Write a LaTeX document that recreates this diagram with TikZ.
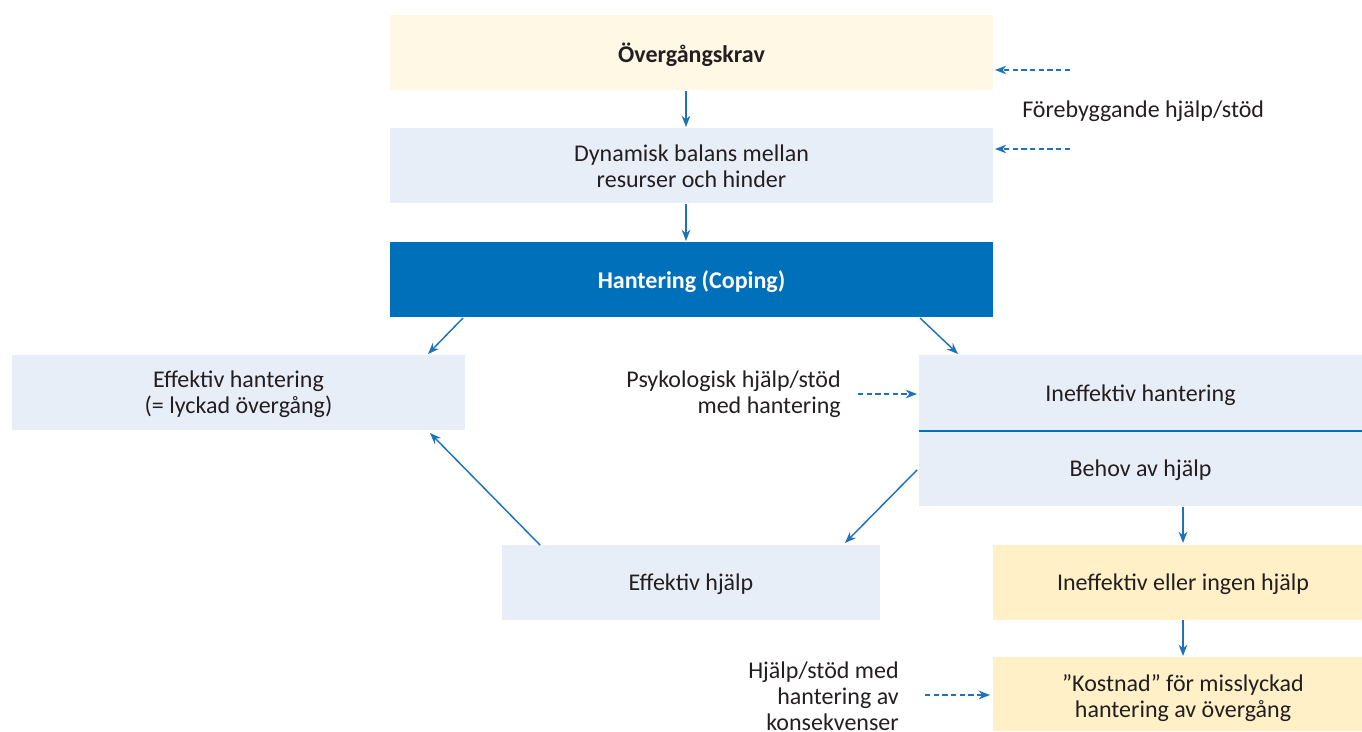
\documentclass[tikz,border=0pt]{standalone}
\usepackage{fontspec}
\setmainfont{Carlito}
\usetikzlibrary{arrows.meta}
\definecolor{lblue}{HTML}{E8EEF8}
\definecolor{lyel}{HTML}{FFF8E4}
\definecolor{myel}{HTML}{FFF0C8}
\definecolor{dblue}{HTML}{0070BA}
\definecolor{arr}{HTML}{1F72B8}
\definecolor{txt}{HTML}{231F20}
\tikzset{
  box/.style={inner sep=0pt, align=center, text=txt, font=\fontsize{18}{19.5}\selectfont},
  conn/.style={draw=arr, line width=1.1pt, -{Stealth[length=8.5pt,width=6.5pt]}},
  dconn/.style={conn, dashed, dash pattern=on 4pt off 2.5pt},
  lbl/.style={inner sep=0pt, text=txt, font=\fontsize{18}{19.5}\selectfont},
}
\begin{document}
\begin{tikzpicture}[x=0.75pt,y=-0.75pt]
\useasboundingbox (0,0) rectangle (1362,731);
% boxes
\fill[lyel] (390,15) rectangle (993,90);
\node[box, font=\fontsize{18}{19.5}\selectfont\bfseries] (krav) at (691.5,55) {Övergångskrav};
\fill[lblue] (390,128) rectangle (993,203);
\node[box] (dyn) at (691.5,166) {Dynamisk balans mellan\\resurser och hinder};
\fill[dblue] (390,242) rectangle (993,317);
\node[box, text=white, font=\fontsize{18}{19.5}\selectfont\bfseries] (cop) at (691.5,282) {Hantering (Coping)};
\fill[lblue] (12,355) rectangle (465,430);
\node[box] (eff) at (238.5,394) {Effektiv hantering\\(= lyckad övergång)};
\fill[lblue] (919,355) rectangle (1362,506);
\draw[dblue, line width=1.3pt] (919,431) -- (1362,431);
\node[box] (ineff) at (1140.5,395) {Ineffektiv hantering};
\node[box] (behov) at (1140.5,470) {Behov av hjälp};
\fill[lblue] (502,545) rectangle (880,620);
\node[box] (effh) at (691,584) {Effektiv hjälp};
\fill[myel] (993,545) rectangle (1362,620);
\node[box] (ingen) at (1183,584) {Ineffektiv eller ingen hjälp};
\fill[myel] (993,657) rectangle (1362,731);
\node[box] (kost) at (1183,698) {”Kostnad” för misslyckad\\hantering av övergång};
% coordinates
\coordinate (k1) at (686,91);  \coordinate (k2) at (686,127);
\coordinate (d1) at (686,204); \coordinate (d2) at (686,241);
\coordinate (c1) at (463,318); \coordinate (c2) at (428,354);
\coordinate (c3) at (920,318); \coordinate (c4) at (958,354);
\coordinate (b1) at (1183,507); \coordinate (b2) at (1183,543);
\coordinate (i1) at (1183,620); \coordinate (i2) at (1183,656);
\coordinate (n1) at (917,470); \coordinate (n2) at (845,543);
\coordinate (e1) at (540,545); \coordinate (e2) at (430,433);
\coordinate (f1) at (1070,70); \coordinate (f2) at (995,70);
\coordinate (f3) at (1070,149); \coordinate (f4) at (995,149);
\coordinate (p1) at (858,394); \coordinate (p2) at (917,394);
\coordinate (h1) at (925,695); \coordinate (h2) at (990,695);
% connectors
\draw[conn] (k1) -- (k2);
\draw[conn] (d1) -- (d2);
\draw[conn] (c1) -- (c2);
\draw[conn] (c3) -- (c4);
\draw[conn] (b1) -- (b2);
\draw[conn] (i1) -- (i2);
\draw[conn] (n1) -- (n2);
\draw[conn] (e1) -- (e2);
\draw[dconn] (f1) -- (f2);
\draw[dconn] (f3) -- (f4);
\draw[dconn] (p1) -- (p2);
\draw[dconn] (h1) -- (h2);
% labels
\node[lbl, anchor=west] (fore) at (1022,111) {Förebyggande hjälp/stöd};
\node[lbl, anchor=east, align=right] (psyk) at (841,394) {Psykologisk hjälp/stöd\\med hantering};
\node[lbl, anchor=east, align=right] (hjs) at (899,696) {Hjälp/stöd med\\hantering av\\konsekvenser};
\end{tikzpicture}
\end{document}
